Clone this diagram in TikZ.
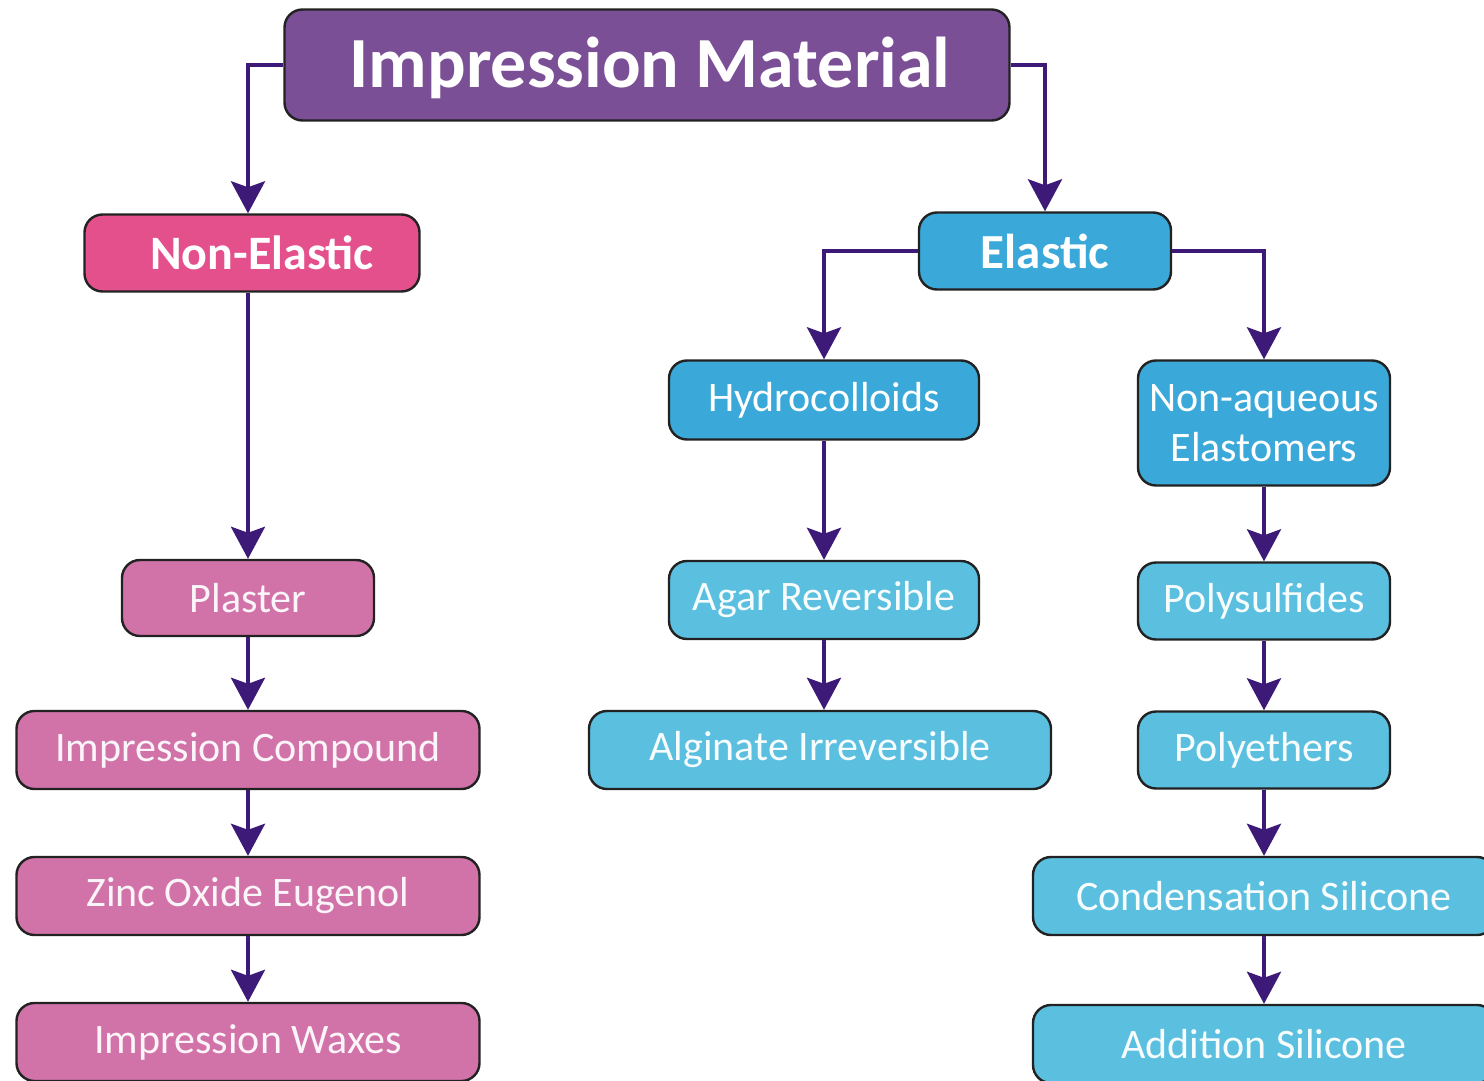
\documentclass[tikz,border=0pt]{standalone}
\usepackage{fontspec}
\setmainfont{Carlito}
\usetikzlibrary{arrows.meta}
\definecolor{titlec}{HTML}{7A4F96}
\definecolor{nec}{HTML}{E4508C}
\definecolor{pinkc}{HTML}{D173A8}
\definecolor{bluedk}{HTML}{3AA8D8}
\definecolor{bluelt}{HTML}{5BBFE0}
\definecolor{arrowc}{HTML}{3E1A78}
\definecolor{edgec}{HTML}{222222}
\tikzset{
  box/.style={rounded corners=9pt, draw=edgec, line width=1.2pt, text=white, inner sep=0pt, align=center},
  regtxt/.style={font=\fontsize{21}{25}\selectfont},
  pinkbox/.style={box, regtxt, fill=pinkc, text=white!92!pinkc},
  bluebox/.style={box, regtxt, fill=bluelt, text=white!95!bluelt},
  blueboxdk/.style={box, regtxt, fill=bluedk},
  arr/.style={draw=arrowc, line width=2pt, -{Stealth[length=16pt,width=17pt,inset=3pt]}}
}
\begin{document}
\begin{tikzpicture}[x=0.5pt,y=-0.5pt]
\useasboundingbox (0,0) rectangle (1484,1081);
\clip (0,0) rectangle (1484,1081);
\fill[white] (0,0) rectangle (1484,1081);
% nodes
\node[box, fill=titlec, minimum width=362.5pt, minimum height=55.5pt] (title) at (647,65) {};
\node[text=white, font=\fontsize{36}{40}\selectfont\bfseries, inner sep=0pt] (titletext) at (650,68) {Impression Material};
\node[box, fill=nec, minimum width=167.5pt, minimum height=38.5pt, font=\fontsize{24}{28}\selectfont\bfseries] (ne) at (252,253) {\hspace*{10pt}Non-Elastic};
\node[box, fill=bluedk, minimum width=126pt, minimum height=38.5pt, font=\fontsize{24.5}{28}\selectfont\bfseries] (el) at (1045,251) {Elastic};
\node[blueboxdk, minimum width=155pt, minimum height=39.5pt] (hy) at (824,400) {Hydrocolloids};
\node[blueboxdk, minimum width=126pt, minimum height=62.5pt] (na) at (1264,423) {Non-aqueous\\Elastomers};
\node[pinkbox, minimum width=126pt, minimum height=38pt] (pl) at (248,598) {Plaster};
\node[pinkbox, minimum width=231.5pt, minimum height=39pt] (ic) at (248,750) {Impression Compound};
\node[pinkbox, minimum width=231.5pt, minimum height=39pt] (zo) at (248,896) {Zinc Oxide Eugenol};
\node[pinkbox, minimum width=231.5pt, minimum height=39pt] (iw) at (248,1042) {Impression Waxes};
\node[bluebox, minimum width=155pt, minimum height=39pt] (ag) at (824,600) {Agar Reversible};
\node[bluebox, minimum width=231pt, minimum height=39pt] (al) at (820,750) {Alginate Irreversible};
\node[bluebox, minimum width=126pt, minimum height=38.5pt] (ps) at (1264,601) {Polysulfides};
\node[bluebox, minimum width=126pt, minimum height=38.5pt] (pe) at (1264,750) {Polyethers};
\node[bluebox, minimum width=231pt, minimum height=39pt] (cs) at (1264,896) {Condensation Silicone};
\node[bluebox, minimum width=231pt, minimum height=39pt] (as) at (1264,1044) {Addition Silicone};
% connectors
\draw[arr] (title.west) -| (pl.north |- ne.north);
\draw[arr] (title.east) -| (el.north);
\draw[arr] (el.west) -| (hy.north);
\draw[arr] (el.east) -| (na.north);
\draw[arr] (ne.south -| pl.north) -- (pl.north);
\draw[arr] (pl.south) -- (ic.north);
\draw[arr] (ic.south) -- (zo.north);
\draw[arr] (zo.south) -- (iw.north);
\draw[arr] (hy.south) -- (ag.north);
\draw[arr] (ag.south) -- (ag.south |- al.north);
\draw[arr] (na.south) -- (ps.north);
\draw[arr] (ps.south) -- (pe.north);
\draw[arr] (pe.south) -- (cs.north);
\draw[arr] (cs.south) -- (as.north);
\end{tikzpicture}
\end{document}
